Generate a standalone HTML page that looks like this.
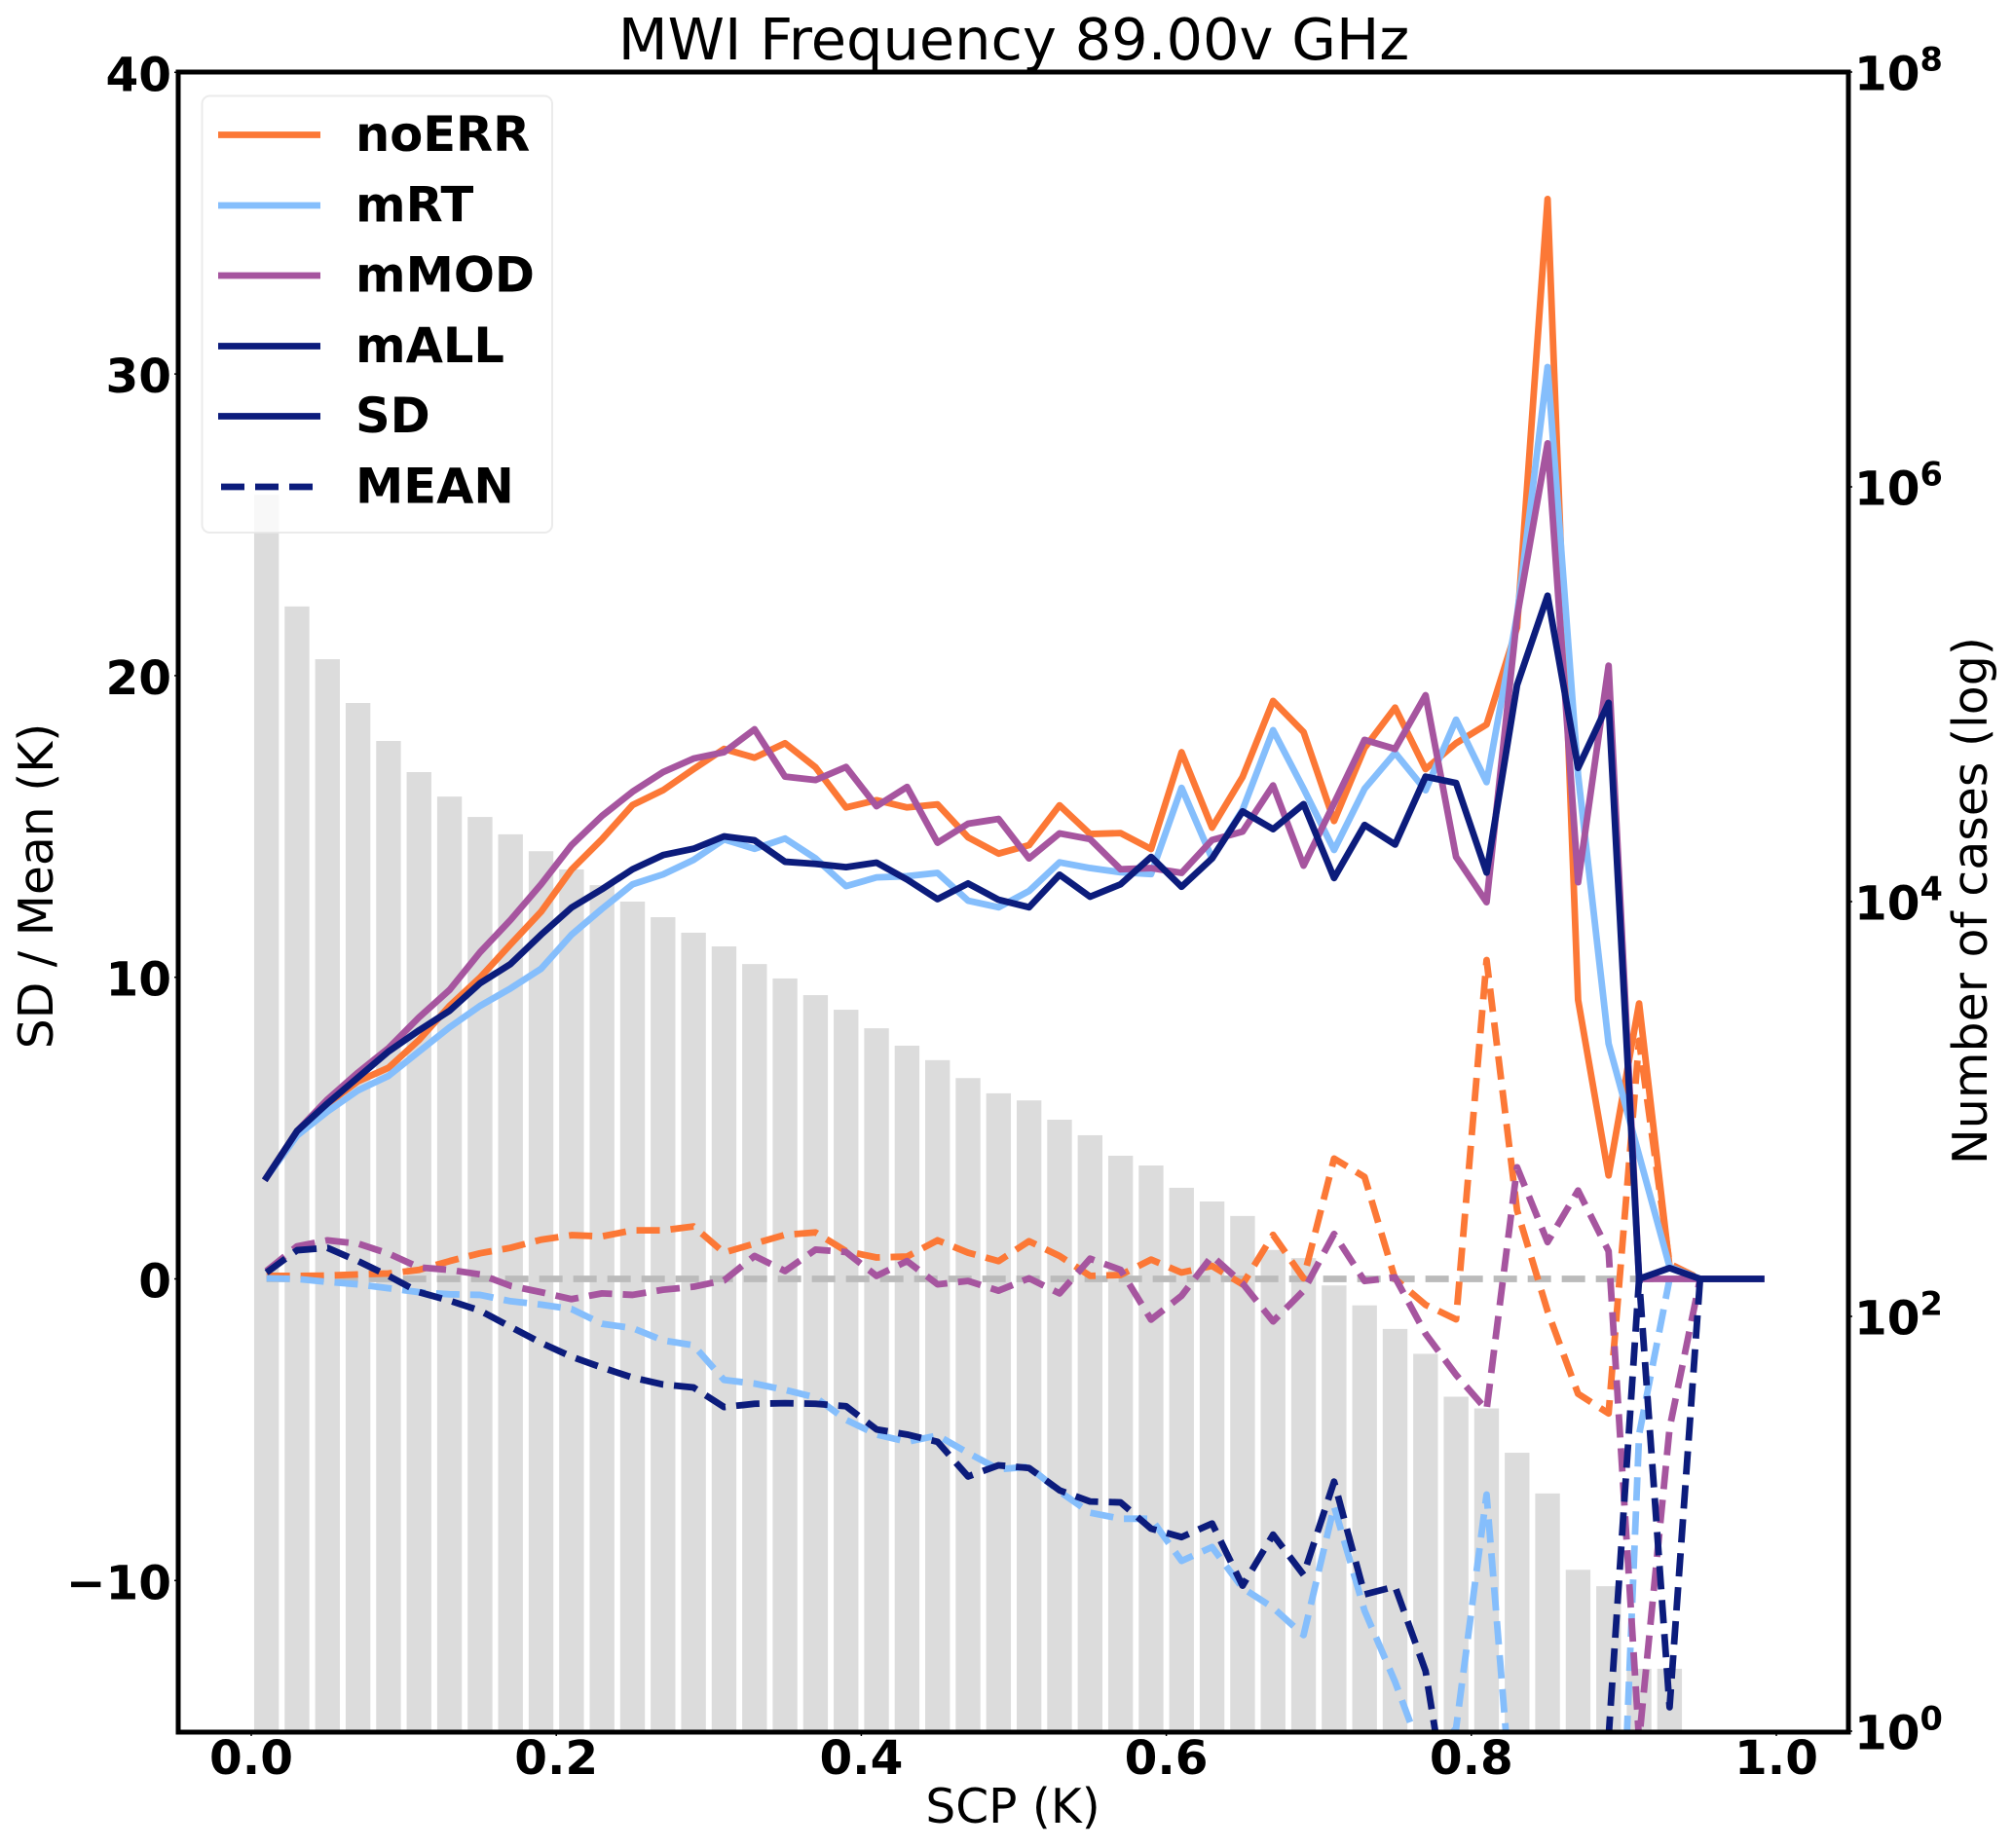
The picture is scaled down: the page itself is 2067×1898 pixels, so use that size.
<!DOCTYPE html>
<html>
<head>
<meta charset="utf-8">
<title>MWI Frequency 89.00v GHz</title>
<style>
html,body{margin:0;padding:0;background:#fff;width:2067px;height:1898px;overflow:hidden;}
svg{display:block;}
text{font-family:"DejaVu Sans","Liberation Sans",sans-serif;fill:#000;}
.b{font-weight:bold;font-size:48.5px;}
.l{font-weight:bold;font-size:49.5px;}
.r{font-size:48.6px;}
</style>
</head>
<body>
<svg id="chart" xmlns="http://www.w3.org/2000/svg" width="2067" height="1898" viewBox="0 0 2067 1898">
  <defs><clipPath id="plot-clip"><rect x="183" y="74" width="1715" height="1705"/></clipPath></defs>
  <rect x="0" y="0" width="2067" height="1898" fill="#fff"/>
  <g id="bars"></g>
  <g id="series" clip-path="url(#plot-clip)"></g>
  <g id="ticks"></g>
  <rect x="183" y="74" width="1715" height="1705" fill="none" stroke="#000" stroke-width="5"/>
  <text x="1041" y="61" text-anchor="middle" style="font-size:59px">MWI Frequency 89.00v GHz</text>
  <text x="1040" y="1872" text-anchor="middle" class="r">SCP (K)</text>
  <text transform="translate(54 910) rotate(-90)" text-anchor="middle" style="font-size:48.8px">SD / Mean (K)</text>
  <text transform="translate(2040 925) rotate(-90)" text-anchor="middle" style="font-size:49px">Number of cases (log)</text>
  <g>
    <rect x="207.5" y="98.5" width="359.5" height="448.5" rx="8" ry="8" fill="#fff" fill-opacity="0.8" stroke="#e6e6e6" stroke-opacity="0.8" stroke-width="2"/>
    <g>
      <line x1="224" x2="329" y1="138.5" y2="138.5" stroke="#FC7836" stroke-width="6.8"/>
      <text x="365" y="155" class="l">noERR</text>
    </g>
    <g>
      <line x1="224" x2="329" y1="211" y2="211" stroke="#85BEFC" stroke-width="6.8"/>
      <text x="365" y="227.5" class="l">mRT</text>
    </g>
    <g>
      <line x1="224" x2="329" y1="283" y2="283" stroke="#A6559F" stroke-width="6.8"/>
      <text x="365" y="299.5" class="l">mMOD</text>
    </g>
    <g>
      <line x1="224" x2="329" y1="355.5" y2="355.5" stroke="#0C1C7C" stroke-width="6.8"/>
      <text x="365" y="372" class="l">mALL</text>
    </g>
    <g>
      <line x1="224" x2="329" y1="427.5" y2="427.5" stroke="#0C1C7C" stroke-width="6.8"/>
      <text x="365" y="444" class="l">SD</text>
    </g>
    <g>
      <line x1="227" x2="321" y1="500" y2="500" stroke="#0C1C7C" stroke-width="6.8" stroke-dasharray="24 11"/>
      <text x="365" y="516.5" class="l">MEAN</text>
    </g>
  </g>
</svg>
<script>
var scpBins = [0.01,0.03,0.05,0.07,0.09,0.11,0.13,0.15,0.17,0.19,0.21,0.23,0.25,0.27,0.29,0.31,0.33,0.35,0.37,0.39,0.41,0.43,0.45,0.47,0.49,0.51,0.53,0.55,0.57,0.59,0.61,0.63,0.65,0.67,0.69,0.71,0.73,0.75,0.77,0.79,0.81,0.83,0.85,0.87,0.89,0.91,0.93,0.95,0.97,0.99];
var caseCounts = [916000,265000,147500,90700,59500,42100,32100,25600,21100,17500,14300,12000,10000,8410,7080,6080,5000,4260,3540,3010,2450,2020,1720,1410,1190,1100,888,747,595,534,417,358,305,209,191,141,113,87,66,41,36,22,14,6,5,2,2];
var sdNoErr = [3.36,4.9,5.8,6.55,7.0,7.92,9.05,9.99,11.09,12.17,13.57,14.58,15.71,16.2,16.9,17.57,17.28,17.76,16.96,15.63,15.87,15.63,15.73,14.64,14.1,14.38,15.7,14.75,14.78,14.25,17.46,14.96,16.64,19.16,18.13,15.18,17.6,18.94,16.9,17.76,18.38,21.6,35.8,9.25,3.43,9.13,0.4,0,0,0];
var sdMrt = [3.36,4.75,5.55,6.25,6.73,7.54,8.34,9.05,9.63,10.28,11.41,12.27,13.08,13.41,13.89,14.57,14.26,14.6,13.94,13.02,13.31,13.35,13.46,12.54,12.32,12.86,13.81,13.62,13.48,13.42,16.28,13.94,15.55,18.19,16.25,14.22,16.25,17.44,16.2,18.54,16.47,22,30.23,16.7,7.8,4.1,0.4,0,0,0];
var sdMmod = [3.36,4.9,5.95,6.84,7.65,8.67,9.58,10.83,11.9,13.08,14.38,15.35,16.15,16.8,17.25,17.46,18.22,16.65,16.54,16.97,15.67,16.31,14.46,15.09,15.25,13.94,14.77,14.58,13.58,13.62,13.46,14.55,14.83,16.36,13.7,15.77,17.87,17.57,19.35,13.99,12.49,21.96,27.7,13.15,20.33,0,0,0,0,0];
var sdMall = [3.36,4.9,5.82,6.68,7.54,8.24,8.89,9.8,10.44,11.41,12.31,12.92,13.58,14.05,14.26,14.67,14.54,13.83,13.76,13.65,13.8,13.24,12.59,13.11,12.57,12.32,13.4,12.67,13.08,13.99,13.0,13.94,15.5,14.91,15.74,13.29,15.05,14.4,16.65,16.44,13.47,19.69,22.65,16.94,19.1,0,0.36,0,0,0];
var meanNoErr = [0.1,0.1,0.11,0.15,0.18,0.3,0.59,0.85,1.03,1.3,1.45,1.41,1.61,1.61,1.74,0.87,1.17,1.46,1.54,0.92,0.71,0.74,1.28,0.87,0.59,1.25,0.76,0.1,0.13,0.64,0.21,0.43,-0.18,1.46,0.02,3.99,3.38,0,-0.86,-1.34,10.57,2.27,-1.07,-3.81,-4.46,7.9,0.5,0];
var meanMrt = [0.02,0,-0.1,-0.18,-0.31,-0.44,-0.51,-0.53,-0.74,-0.85,-1.0,-1.49,-1.63,-2.04,-2.2,-3.35,-3.47,-3.68,-3.93,-4.67,-5.16,-5.4,-5.19,-5.77,-6.31,-6.23,-7.05,-7.75,-7.95,-7.95,-9.35,-8.89,-10.25,-10.9,-11.81,-7.54,-11,-13.36,-16.07,-14.9,-7.15,-19.6,-22,-26,-30,-5.16,0,0];
var meanMmod = [0.26,1.08,1.28,1.17,0.84,0.38,0.3,0.15,-0.23,-0.44,-0.67,-0.48,-0.53,-0.36,-0.26,-0.05,0.76,0.26,0.97,0.89,0.1,0.59,-0.18,-0.07,-0.39,0.02,-0.48,0.67,0.3,-1.35,-0.56,0.76,-0.15,-1.41,-0.39,1.49,-0.07,0.05,-1.82,-3.18,-4.34,3.7,1.22,2.93,0.92,-15.3,-4.95,0];
var meanMall = [0.21,0.95,1.03,0.59,0.1,-0.44,-0.72,-1.05,-1.59,-2.12,-2.58,-2.94,-3.27,-3.5,-3.6,-4.25,-4.14,-4.12,-4.14,-4.22,-4.99,-5.16,-5.4,-6.55,-6.18,-6.27,-7.01,-7.38,-7.41,-8.28,-8.56,-8.11,-10.17,-8.48,-9.81,-6.72,-10.46,-10.2,-13.0,-19.3,-21,-22,-21,-20,-15.2,0,-14.2,0];
var zeroLine = [0,0,0,0,0,0,0,0,0,0,0,0,0,0,0,0,0,0,0,0,0,0,0,0,0,0,0,0,0,0,0,0,0,0,0,0,0,0,0,0,0,0,0,0,0,0,0,0,0,0];
var xTickValues = [0,0.2,0.4,0.6,0.8,1];
var xTickLabels = ['0.0','0.2','0.4','0.6','0.8','1.0'];
var yTickValues = [-10,0,10,20,30,40];
var yTickLabels = ['\u221210','0','10','20','30','40'];
var logTickExponents = [0,2,4,6,8];

var SVGNS = 'http://www.w3.org/2000/svg';
function xScale(v){ return 258 + 1566 * v; }
function yScale(v){ return 1313.5 - 30.98 * v; }
function logScale(c){ return 1778 - 213 * Math.log10(c); }
var barHalfWidth = 0.0081;
var axisFloor = -15.1;

var barsLayer = document.getElementById('bars');
var seriesLayer = document.getElementById('series');
var ticksLayer = document.getElementById('ticks');

caseCounts.forEach(function(count, i){
  var el = document.createElementNS(SVGNS, 'rect');
  
  
  var left = xScale(scpBins[i] - barHalfWidth);
  var top = logScale(count);
  el.setAttribute('x', left);
  el.setAttribute('y', top);
  el.setAttribute('width', xScale(scpBins[i] + barHalfWidth) - left);
  el.setAttribute('height', logScale(1) - top);
  el.setAttribute('fill', '#DCDCDC');
  barsLayer.appendChild(el);
});

function visibleRuns(values){
  var runs = [];
  var run = null;
  var travelled = 0;
  for (var i = 0; i < values.length - 1; i++) {
    var a = values[i], b = values[i + 1];
    var xa = xScale(scpBins[i]), xb = xScale(scpBins[i + 1]);
    var ya = yScale(a), yb = yScale(b);
    var segLen = Math.sqrt((xb - xa) * (xb - xa) + (yb - ya) * (yb - ya));
    var t0 = 0, t1 = 1;
    if (a < axisFloor && b < axisFloor) { t0 = 2; }
    else if (a < axisFloor) { t0 = (axisFloor - a) / (b - a); }
    else if (b < axisFloor) { t1 = (axisFloor - a) / (b - a); }
    if (t0 <= 1) {
      if (!run) {
        run = { offset: travelled + t0 * segLen, pts: [[xa + (xb - xa) * t0, ya + (yb - ya) * t0]] };
        runs.push(run);
      }
      run.pts.push([xa + (xb - xa) * t1, ya + (yb - ya) * t1]);
      if (t1 < 1) { run = null; }
    } else {
      run = null;
    }
    travelled += segLen;
  }
  return runs;
}

function drawLine(values, color, dashed, name){
  visibleRuns(values).forEach(function(r){
    var d = r.pts.map(function(p, i){
      return (i ? 'L' : 'M') + p[0].toFixed(2) + ' ' + p[1].toFixed(2);
    }).join(' ');
    var el = document.createElementNS(SVGNS, 'path');
    
    
    el.setAttribute('d', d);
    el.setAttribute('fill', 'none');
    el.setAttribute('stroke', color);
    el.setAttribute('stroke-width', '6.8');
    el.setAttribute('stroke-linejoin', 'round');
    if (dashed) {
      el.setAttribute('stroke-dasharray', '24 11');
      el.setAttribute('stroke-dashoffset', r.offset.toFixed(2));
    } else {
      el.setAttribute('stroke-linecap', 'square');
    }
    seriesLayer.appendChild(el);
  });
}

drawLine(zeroLine, '#BBBBBB', true, 'zero-reference-line');
drawLine(sdNoErr, '#FC7836', false, 'sd-line-noerr');
drawLine(meanNoErr, '#FC7836', true, 'mean-line-noerr');
drawLine(sdMrt, '#85BEFC', false, 'sd-line-mrt');
drawLine(meanMrt, '#85BEFC', true, 'mean-line-mrt');
drawLine(sdMmod, '#A6559F', false, 'sd-line-mmod');
drawLine(meanMmod, '#A6559F', true, 'mean-line-mmod');
drawLine(sdMall, '#0C1C7C', false, 'sd-line-mall');
drawLine(meanMall, '#0C1C7C', true, 'mean-line-mall');

function tickMark(x1, y1, x2, y2, name){
  var el = document.createElementNS(SVGNS, 'line');
  
  
  el.setAttribute('x1', x1);
  el.setAttribute('y1', y1);
  el.setAttribute('x2', x2);
  el.setAttribute('y2', y2);
  el.setAttribute('stroke', '#000');
  el.setAttribute('stroke-width', '1.5');
  ticksLayer.appendChild(el);
}

xTickValues.forEach(function(v, i){
  tickMark(xScale(v), 1779, xScale(v), 1783, 'x-tick-mark');
  var el = document.createElementNS(SVGNS, 'text');
  
  
  el.setAttribute('class', 'b');
  el.setAttribute('x', xScale(v));
  el.setAttribute('y', 1822);
  el.setAttribute('text-anchor', 'middle');
  el.textContent = xTickLabels[i];
  ticksLayer.appendChild(el);
});

yTickValues.forEach(function(v, i){
  tickMark(179, yScale(v), 183, yScale(v), 'y-tick-mark');
  var el = document.createElementNS(SVGNS, 'text');
  
  
  el.setAttribute('class', 'b');
  el.setAttribute('x', 176);
  el.setAttribute('y', yScale(v) + 19);
  el.setAttribute('text-anchor', 'end');
  el.textContent = yTickLabels[i];
  ticksLayer.appendChild(el);
});

logTickExponents.forEach(function(e){
  var y = logScale(Math.pow(10, e));
  tickMark(1898, y, 1902, y, 'right-y-tick-mark');
  var el = document.createElementNS(SVGNS, 'text');
  
  
  el.setAttribute('class', 'b');
  el.setAttribute('x', 1904);
  el.setAttribute('y', y + 18.7);
  el.appendChild(document.createTextNode('10'));
  var sup = document.createElementNS(SVGNS, 'tspan');
  
  
  sup.setAttribute('dy', '-20');
  sup.setAttribute('style', 'font-size:33.6px');
  sup.textContent = String(e);
  el.appendChild(sup);
  ticksLayer.appendChild(el);
});
</script>
</body>
</html>
